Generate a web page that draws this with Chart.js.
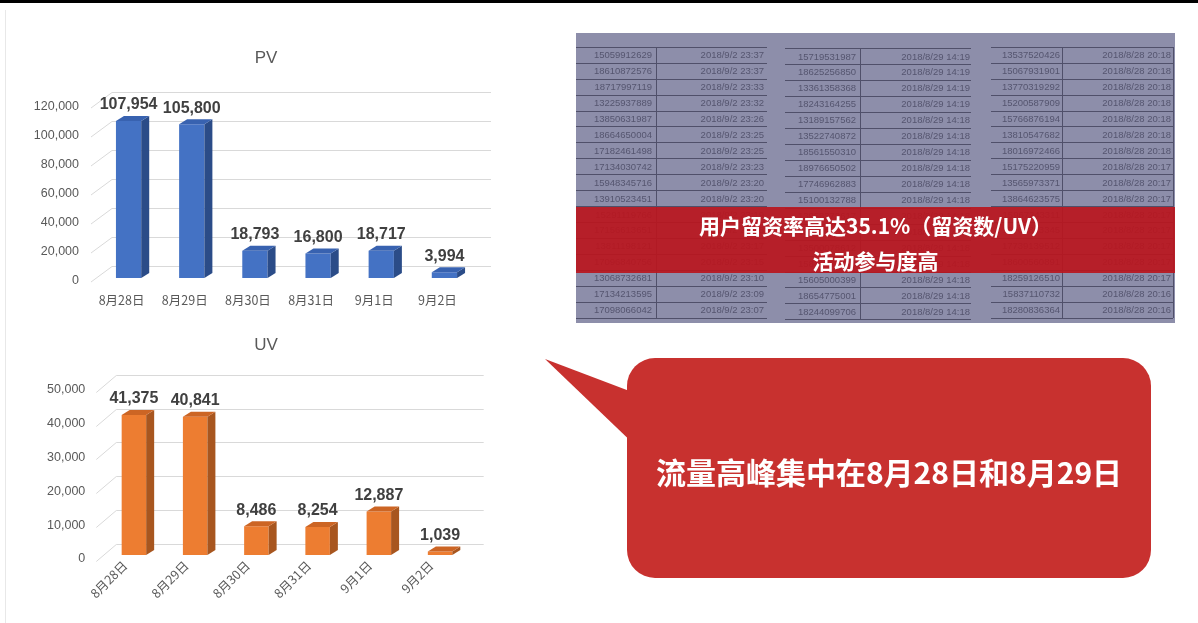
<!DOCTYPE html>
<html>
<head>
<meta charset="utf-8">
<script src="https://cdn.jsdelivr.net/npm/chart.js@4"></script>
<style>
  html, body { margin: 0; padding: 0; background: #fff; }
  #page { position: relative; width: 1198px; height: 623px; overflow: hidden; background: #fff; font-family: "Noto Sans CJK SC", "Liberation Sans", sans-serif; }
  canvas { position: absolute; left: 0; }
  .abs { position: absolute; }
  .cell { position: absolute; width: 200px; height: 12px; line-height: 12px; text-align: right; font-family: "Liberation Sans", "Noto Sans", sans-serif; font-size: 9.5px; color: #55556f; white-space: nowrap; }
</style>
</head>
<body>
<div id="page">
  <div class="abs" style="left:0;top:0;width:1198px;height:3px;background:#000;"></div>
  <div class="abs" style="left:5px;top:10px;width:1px;height:613px;background:#e8e8e8;"></div>
  <canvas id="pv" width="560" height="320" style="top:0;"></canvas>
  <canvas id="uv" width="560" height="300" style="top:320px;"></canvas>
  <div id="table" class="abs" style="left:576px;top:33px;width:599px;height:290px;background:#8d8eaa;"></div>
  <div id="tableLines"></div>
  <div id="band" class="abs" style="left:576px;top:207px;width:599px;height:66px;background:rgba(186,22,30,0.92);"></div>
  <div id="band1" class="abs" style="left:576px;top:211px;width:599px;height:28px;line-height:28px;text-align:center;color:#fff;font-weight:bold;font-size:21px;"></div>
  <div id="band2" class="abs" style="left:576px;top:246px;width:599px;height:28px;line-height:28px;text-align:center;color:#fff;font-weight:bold;font-size:21px;"></div>
  <svg class="abs" style="left:0;top:0;" width="1198" height="623">
    <path d="M545,359 L640,395 L640,450 Z" fill="#c8312f"/>
    <rect x="627" y="358" width="524" height="220" rx="28" ry="28" fill="#c8312f"/>
  </svg>
  <div id="bubbleText" class="abs" style="left:627px;top:451px;width:524px;height:40px;line-height:40px;text-align:center;color:#fff;font-weight:bold;font-size:30px;"></div>
</div>
<script>
// ---- chart data ----
const categories = ['8月28日', '8月29日', '8月30日', '8月31日', '9月1日', '9月2日'];
const pvValues = [107954, 105800, 18793, 16800, 18717, 3994];
const uvValues = [41375, 40841, 8486, 8254, 12887, 1039];
const pvTitle = 'PV';
const uvTitle = 'UV';
const pvMax = 120000, pvStep = 20000;
const uvMax = 50000, uvStep = 10000;

// ---- slide texts ----
const bandLine1 = '用户留资率高达35.1%（留资数/UV）';
const bandLine2 = '活动参与度高';
const bubbleLine = '流量高峰集中在8月28日和8月29日';

// ---- table (background screenshot) data ----
const phones1 = ['15059912629','18610872576','18717997119','13225937889','13850631987','18664650004','17182461498','17134030742','15948345716','13910523451','15291119766','17156613651','13811198121','17096840756','13068732681','17134213595','17098066042'];
const times1 = ['2018/9/2 23:37','2018/9/2 23:37','2018/9/2 23:33','2018/9/2 23:32','2018/9/2 23:26','2018/9/2 23:25','2018/9/2 23:25','2018/9/2 23:23','2018/9/2 23:20','2018/9/2 23:20','2018/9/2 23:19','2018/9/2 23:18','2018/9/2 23:17','2018/9/2 23:15','2018/9/2 23:10','2018/9/2 23:09','2018/9/2 23:07'];
const phones2 = ['15719531987','18625256850','13361358368','18243164255','13189157562','13522740872','18561550310','18976650502','17746962883','15100132788','13958372617','18661520548','13500078612','15819467503','15605000399','18654775001','18244099706'];
const times2 = ['2018/8/29 14:19','2018/8/29 14:19','2018/8/29 14:19','2018/8/29 14:19','2018/8/29 14:18','2018/8/29 14:18','2018/8/29 14:18','2018/8/29 14:18','2018/8/29 14:18','2018/8/29 14:18','2018/8/29 14:18','2018/8/29 14:18','2018/8/29 14:18','2018/8/29 14:18','2018/8/29 14:18','2018/8/29 14:18','2018/8/29 14:18'];
const phones3 = ['13537520426','15067931901','13770319292','15200587909','15766876194','13810547682','18016972466','15175220959','13565973371','13864623575','15967243311','13762813345','17739139512','18600560891','18259126510','15837110732','18280836364'];
const times3 = ['2018/8/28 20:18','2018/8/28 20:18','2018/8/28 20:18','2018/8/28 20:18','2018/8/28 20:18','2018/8/28 20:18','2018/8/28 20:18','2018/8/28 20:17','2018/8/28 20:17','2018/8/28 20:17','2018/8/28 20:17','2018/8/28 20:17','2018/8/28 20:17','2018/8/28 20:17','2018/8/28 20:17','2018/8/28 20:16','2018/8/28 20:16'];

document.getElementById('band1').textContent = bandLine1;
document.getElementById('band2').textContent = bandLine2;
document.getElementById('bubbleText').textContent = bubbleLine;

// build table
(function () {
  const page = document.getElementById('page');
  const bandEl = document.getElementById('band');
  const blocks = [
    { phones: phones1, times: times1, x1: 576, x2: 767, div: 656, r1: 652, r2: 764, dy: 0 },
    { phones: phones2, times: times2, x1: 785, x2: 971, div: 860, r1: 856, r2: 970, dy: 1.5 },
    { phones: phones3, times: times3, x1: 991, x2: 1173, div: 1062, r1: 1060, r2: 1171, dy: 0 }
  ];
  const rowH = 15.95, firstLine = 46.7;
  const frag = document.createDocumentFragment();
  blocks.forEach((b, bi) => {
    for (let k = 0; k <= b.phones.length; k++) {
      const l = document.createElement('div');
      l.className = 'abs';
      l.style.cssText = `left:${b.x1}px;top:${Math.round(firstLine + k * rowH + b.dy)}px;width:${b.x2 - b.x1}px;height:1px;background:#50506a;`;
      frag.appendChild(l);
    }
    const v = document.createElement('div');
    v.className = 'abs';
    v.style.cssText = `left:${b.div}px;top:${Math.round(firstLine + b.dy)}px;width:1px;height:${Math.round(rowH * b.phones.length)}px;background:#50506a;`;
    frag.appendChild(v);
    if (bi === 2) {
      const v2 = document.createElement('div');
      v2.className = 'abs';
      v2.style.cssText = `left:1173px;top:${Math.round(firstLine)}px;width:1px;height:${Math.round(rowH * b.phones.length)}px;background:#50506a;`;
      frag.appendChild(v2);
    }
    b.phones.forEach((p, i) => {
      const cy = 55 + i * rowH + b.dy;
      const c1 = document.createElement('div');
      c1.className = 'cell';
      c1.style.left = (b.r1 - 200) + 'px';
      c1.style.top = (cy - 6) + 'px';
      c1.textContent = p;
      frag.appendChild(c1);
      const c2 = document.createElement('div');
      c2.className = 'cell';
      c2.style.left = (b.r2 - 200) + 'px';
      c2.style.top = (cy - 6) + 'px';
      c2.textContent = b.times[i];
      frag.appendChild(c2);
    });
  });
  page.insertBefore(frag, bandEl);
})();

const tickFont = { size: 12.5, family: '"Liberation Sans", "Noto Sans CJK SC", sans-serif' };
const catFont = { size: 12.5, family: '"Noto Sans CJK SC", "Liberation Sans", sans-serif' };

function threeD(cfg) {
  return {
    id: 'threeD',
    beforeDatasetsDraw(chart) {
      const { ctx, chartArea: a } = chart;
      const y = chart.scales.y;
      ctx.save();
      ctx.strokeStyle = '#d9d9d9';
      ctx.lineWidth = 1;
      y.ticks.forEach(t => {
        const py = Math.round(y.getPixelForValue(t.value) - cfg.gy) + 0.5;
        ctx.beginPath();
        ctx.moveTo(a.left + cfg.diagX, py + cfg.gy + cfg.diagY);
        ctx.lineTo(a.left + cfg.gx, py);
        ctx.lineTo(a.right + cfg.gx, py);
        ctx.stroke();
      });
      ctx.restore();
    },
    afterDatasetsDraw(chart) {
      const { ctx } = chart;
      const meta = chart.getDatasetMeta(0);
      const values = chart.data.datasets[0].data;
      ctx.save();
      meta.data.forEach((bar, i) => {
        const { x, y, base, width } = bar.getProps(['x', 'y', 'base', 'width'], true);
        const l = x - width / 2, r = x + width / 2;
        const dx = cfg.dx, dy = cfg.dy;
        ctx.fillStyle = cfg.side;
        ctx.beginPath();
        ctx.moveTo(r, y); ctx.lineTo(r + dx, y - dy); ctx.lineTo(r + dx, base - dy); ctx.lineTo(r, base); ctx.closePath();
        ctx.fill();
        ctx.fillStyle = cfg.top;
        ctx.beginPath();
        ctx.moveTo(l, y); ctx.lineTo(l + dx, y - dy); ctx.lineTo(r + dx, y - dy); ctx.lineTo(r, y); ctx.closePath();
        ctx.fill();
        ctx.fillStyle = '#404040';
        ctx.font = 'bold 16px "Liberation Sans", "Noto Sans", sans-serif';
        ctx.textAlign = 'center';
        ctx.textBaseline = 'middle';
        ctx.fillText(values[i].toLocaleString('en-US'), x, y - 16);
      });
      ctx.restore();
    },
    afterDraw(chart) {
      const { ctx } = chart;
      ctx.save();
      ctx.fillStyle = '#595959';
      ctx.font = '17px "Liberation Sans", "Noto Sans", sans-serif';
      ctx.textAlign = 'center';
      ctx.textBaseline = 'middle';
      ctx.fillText(cfg.title, cfg.titleX, cfg.titleY);
      ctx.restore();
    }
  };
}

new Chart(document.getElementById('pv'), {
  type: 'bar',
  data: { labels: categories, datasets: [{ data: pvValues, backgroundColor: '#4472C4', barPercentage: 0.4, categoryPercentage: 1 }] },
  options: {
    responsive: false, animation: false,
    layout: { padding: { top: 103.5, right: 84, bottom: 0, left: 0 } },
    plugins: { legend: { display: false }, tooltip: { enabled: false }, title: { display: false } },
    scales: {
      x: {
        grid: { display: false, drawTicks: false }, border: { display: false },
        ticks: { color: '#595959', font: catFont, padding: 14.5, labelOffset: -7, maxRotation: 0, minRotation: 0, autoSkip: false },
        afterFit: s => { s.height = 42; }
      },
      y: {
        min: 0, max: pvMax,
        grid: { display: false, drawTicks: false }, border: { display: false },
        ticks: { stepSize: pvStep, color: '#595959', font: tickFont, padding: 18, labelOffset: 3, callback: v => v.toLocaleString('en-US') },
        afterFit: s => { s.width = 97; }
      }
    }
  },
  plugins: [threeD({ gx: 15, gy: 12, diagX: -6, diagY: 3.5, dx: 8, dy: 5, side: '#2B4C88', top: '#3862B0', title: pvTitle, titleX: 266, titleY: 58 })]
});

new Chart(document.getElementById('uv'), {
  type: 'bar',
  data: { labels: categories, datasets: [{ data: uvValues, backgroundColor: '#ED7D31', barPercentage: 0.4, categoryPercentage: 1 }] },
  options: {
    responsive: false, animation: false,
    layout: { padding: { top: 65.8, right: 89.3, bottom: 0, left: 0 } },
    plugins: { legend: { display: false }, tooltip: { enabled: false }, title: { display: false } },
    scales: {
      x: {
        grid: { display: false, drawTicks: false }, border: { display: false },
        ticks: { color: '#595959', font: catFont, padding: 3, labelOffset: -9, maxRotation: 45, minRotation: 45, autoSkip: false },
        afterFit: s => { s.height = 65; }
      },
      y: {
        min: 0, max: uvMax,
        grid: { display: false, drawTicks: false }, border: { display: false },
        ticks: { stepSize: uvStep, color: '#595959', font: tickFont, padding: 18, labelOffset: 4, callback: v => v.toLocaleString('en-US') },
        afterFit: s => { s.width = 103.3; }
      }
    }
  },
  plugins: [threeD({ gx: 13, gy: 11, diagX: -7, diagY: 6, dx: 8, dy: 5, side: '#A8561F', top: '#CC6524', title: uvTitle, titleX: 266, titleY: 25 })]
});
</script>
</body>
</html>
